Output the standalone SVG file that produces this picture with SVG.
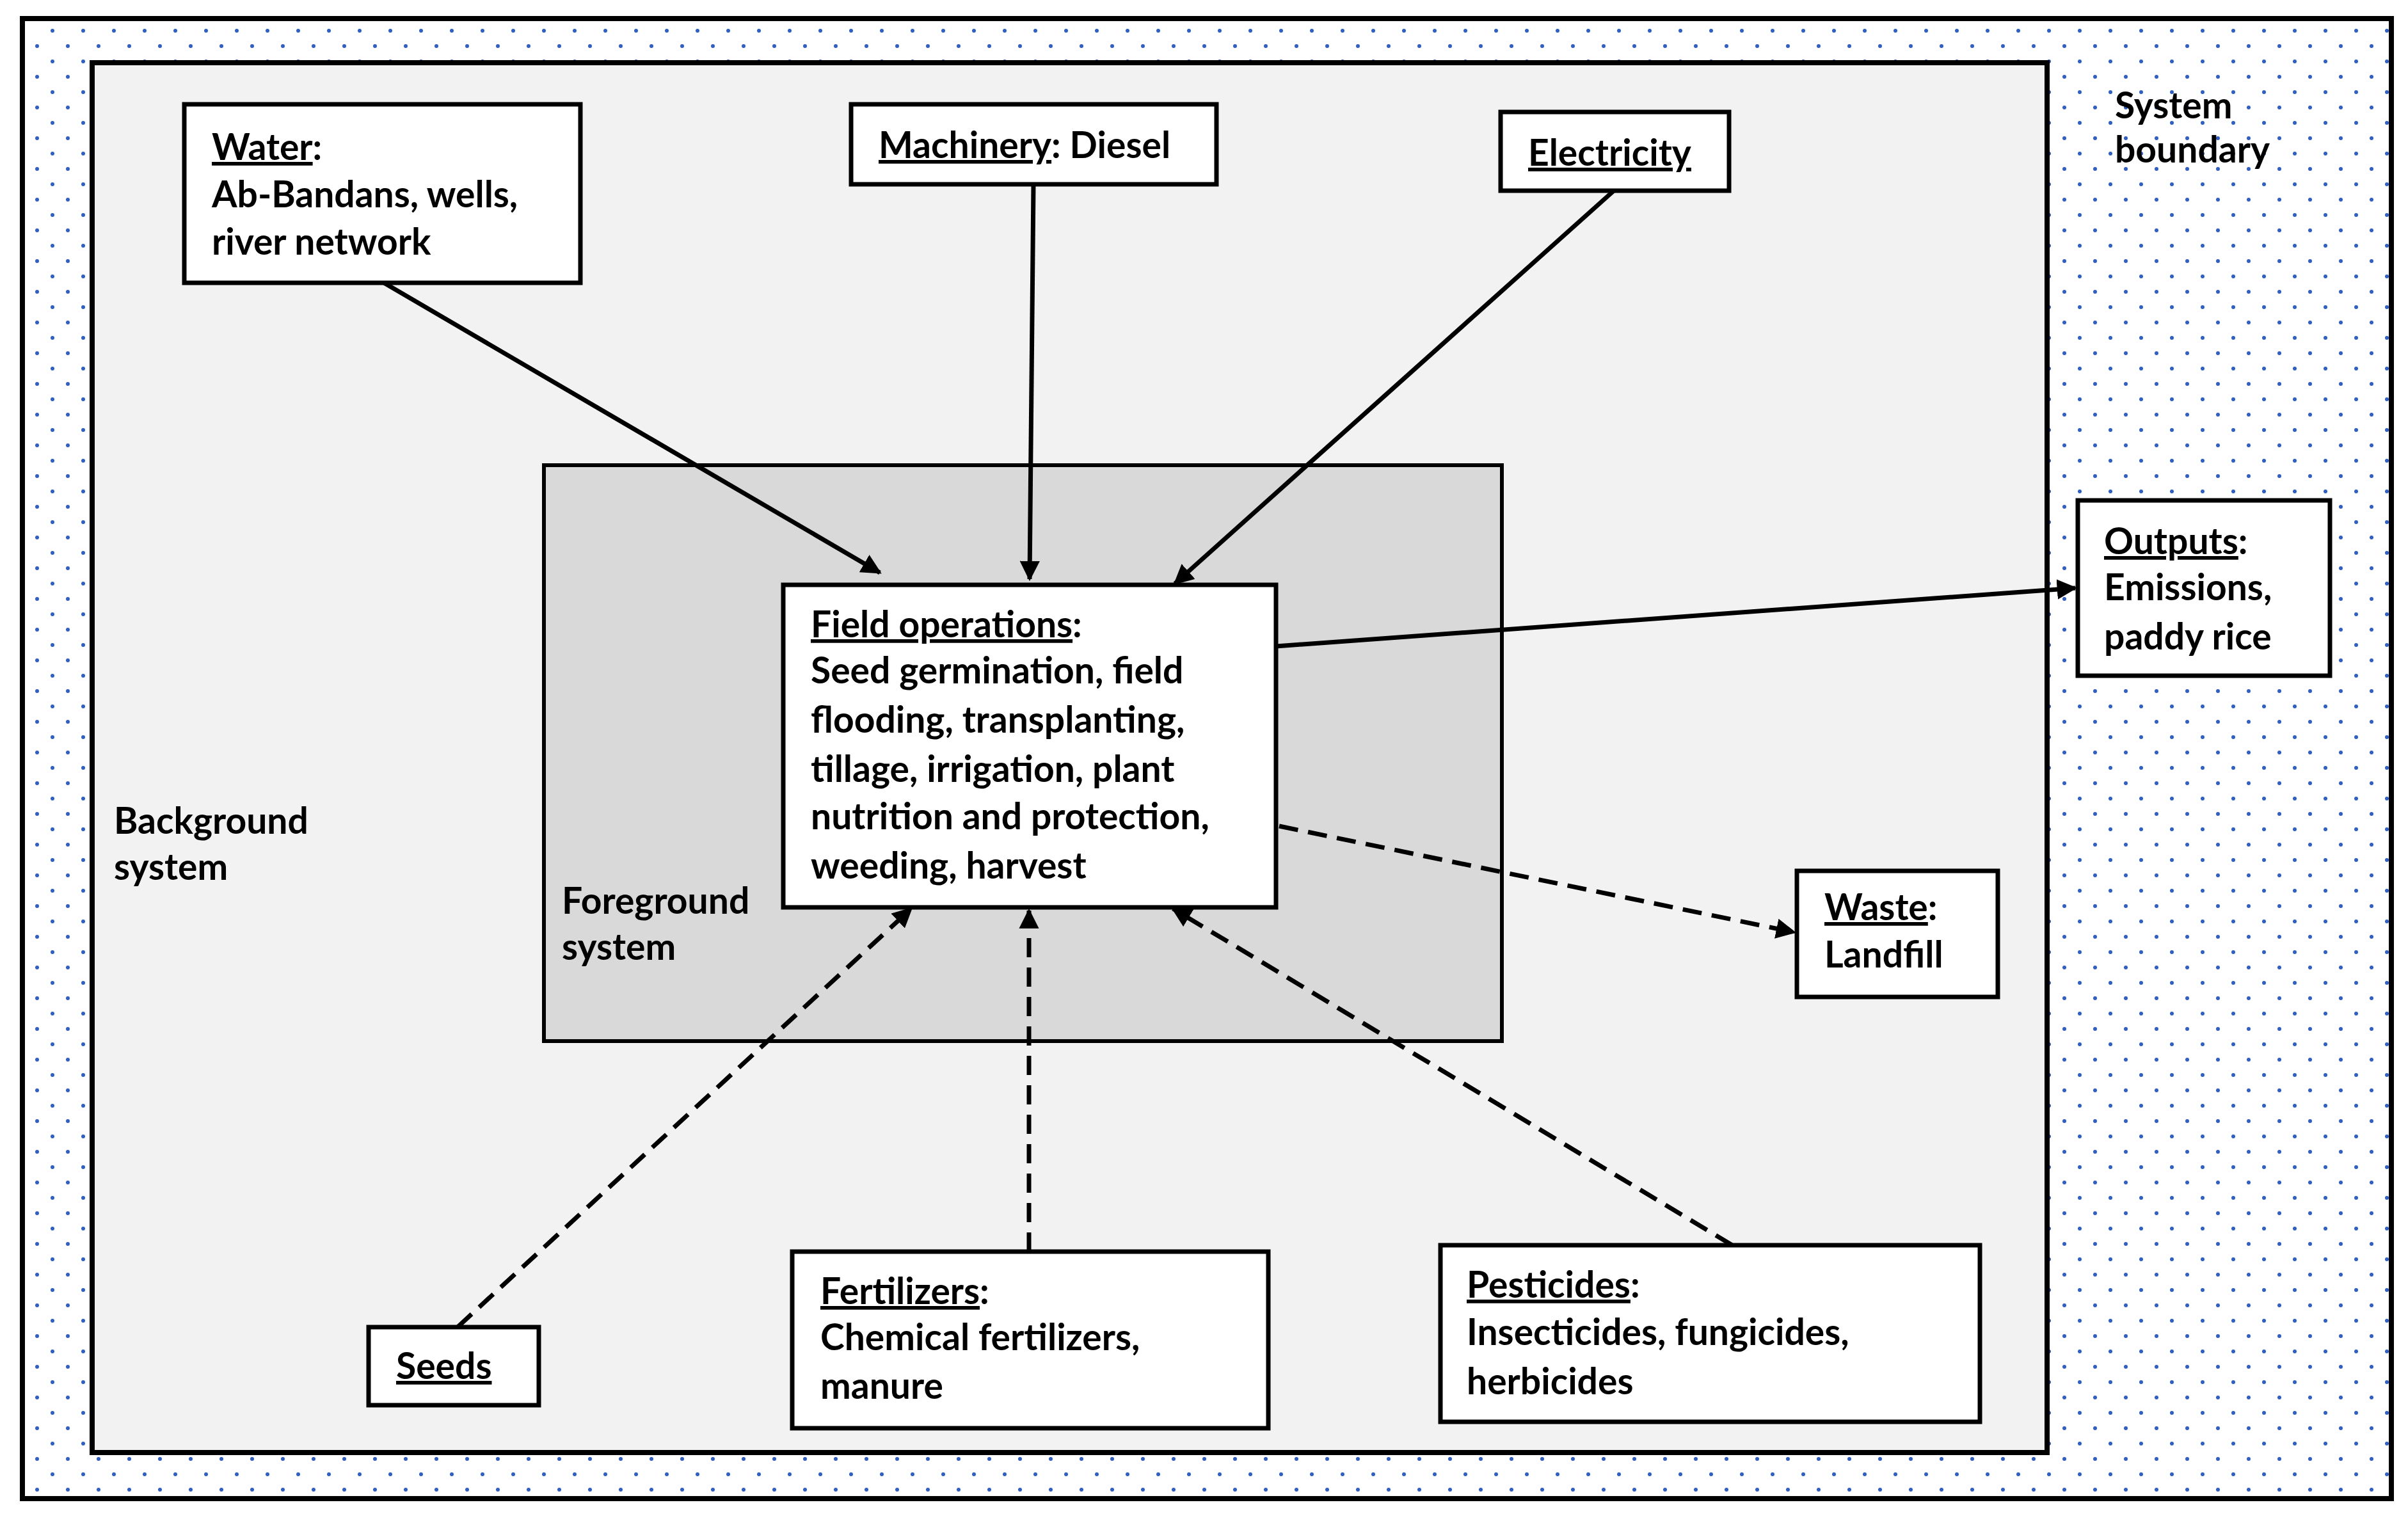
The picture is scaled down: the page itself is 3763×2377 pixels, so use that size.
<svg xmlns="http://www.w3.org/2000/svg" width="3763" height="2377" viewBox="0 0 3763 2377">
<style>
text{font-family:Lato,"Open Sans","Liberation Sans",sans-serif;font-weight:700;font-size:57px;fill:#000}
.u{text-decoration:underline}
.box{fill:#fff;stroke:#000;stroke-width:7}
.c{stroke:#000;stroke-width:7;fill:none;marker-end:url(#ah)}
.d{stroke-dasharray:30 16}
</style>
<defs>
<pattern id="dots" patternUnits="userSpaceOnUse" width="48" height="48">
<circle cx="34" cy="0" r="3" fill="#2f5fc4"/><circle cx="34" cy="48" r="3" fill="#2f5fc4"/>
<circle cx="10" cy="24" r="3" fill="#2f5fc4"/>
</pattern>
<marker id="ah" viewBox="0 0 10 10" refX="9" refY="5" markerWidth="4.5" markerHeight="4.5" orient="auto" markerUnits="strokeWidth"><path d="M0,0L10,5L0,10z" fill="#000"/></marker>
</defs>
<rect width="3763" height="2377" fill="#fff"/>
<g id="boundary"><rect x="35" y="29" width="3702" height="2313" fill="url(#dots)" stroke="#000" stroke-width="8"/>
<text x="3305" y="185">System</text><text x="3305" y="254">boundary</text></g>
<g id="background"><rect x="144" y="98" width="3055" height="2172" fill="#f2f2f2" stroke="#000" stroke-width="8"/>
<text x="178" y="1303">Background</text><text x="178" y="1375">system</text></g>
<g id="foreground"><rect x="850" y="727" width="1497" height="900" fill="#d9d9d9" stroke="#000" stroke-width="6"/>
<text x="878" y="1428">Foreground</text><text x="878" y="1500">system</text></g>
<g id="connectors">
<line class="c" x1="600" y1="442" x2="1375" y2="895"/>
<line class="c" x1="1615" y1="288" x2="1609" y2="905"/>
<line class="c" x1="2522" y1="298" x2="1836" y2="912"/>
<line class="c" x1="1994" y1="1010" x2="3243" y2="919"/>
<line class="c d" x1="1999" y1="1291" x2="2804" y2="1457"/>
<line class="c d" x1="715" y1="2074" x2="1424" y2="1420"/>
<line class="c d" x1="1608" y1="1956" x2="1608" y2="1423"/>
<line class="c d" x1="2707" y1="1946" x2="1833" y2="1420"/>
</g>
<g id="field"><rect class="box" x="1224" y="914" width="770" height="504"/>
<text x="1267" y="996"><tspan class="u">Field operations</tspan>:</text>
<text x="1267" y="1068">Seed germination, field</text>
<text x="1267" y="1145">flooding, transplanting,</text>
<text x="1267" y="1222">tillage, irrigation, plant</text>
<text x="1267" y="1296">nutrition and protection,</text>
<text x="1267" y="1373">weeding, harvest</text></g>
<g id="water"><rect class="box" x="288" y="163" width="619" height="279"/>
<text x="331" y="250"><tspan class="u">Water</tspan>:</text>
<text x="331" y="324">Ab-Bandans, wells,</text><text x="331" y="398">river network</text></g>
<g id="machinery"><rect class="box" x="1330" y="163" width="571" height="125"/>
<text x="1373" y="247"><tspan class="u">Machinery</tspan>: Diesel</text></g>
<g id="electricity"><rect class="box" x="2345" y="175" width="357" height="123"/>
<text x="2388" y="259" class="u">Electricity</text></g>
<g id="outputs"><rect class="box" x="3247" y="782" width="394" height="274"/>
<text x="3288" y="866"><tspan class="u">Outputs</tspan>:</text>
<text x="3288" y="938">Emissions,</text><text x="3288" y="1015">paddy rice</text></g>
<g id="waste"><rect class="box" x="2808" y="1361" width="314" height="197"/>
<text x="2851" y="1438"><tspan class="u">Waste</tspan>:</text><text x="2851" y="1512">Landfill</text></g>
<g id="seeds"><rect class="box" x="576" y="2074" width="266" height="122"/>
<text x="619" y="2155" class="u">Seeds</text></g>
<g id="fertilizers"><rect class="box" x="1238" y="1956" width="744" height="276"/>
<text x="1282" y="2038"><tspan class="u">Fertilizers</tspan>:</text>
<text x="1282" y="2110">Chemical fertilizers,</text><text x="1282" y="2186">manure</text></g>
<g id="pesticides"><rect class="box" x="2251" y="1946" width="843" height="276"/>
<text x="2292" y="2028"><tspan class="u">Pesticides</tspan>:</text>
<text x="2292" y="2102">Insecticides, fungicides,</text><text x="2292" y="2179">herbicides</text></g>
</svg>
